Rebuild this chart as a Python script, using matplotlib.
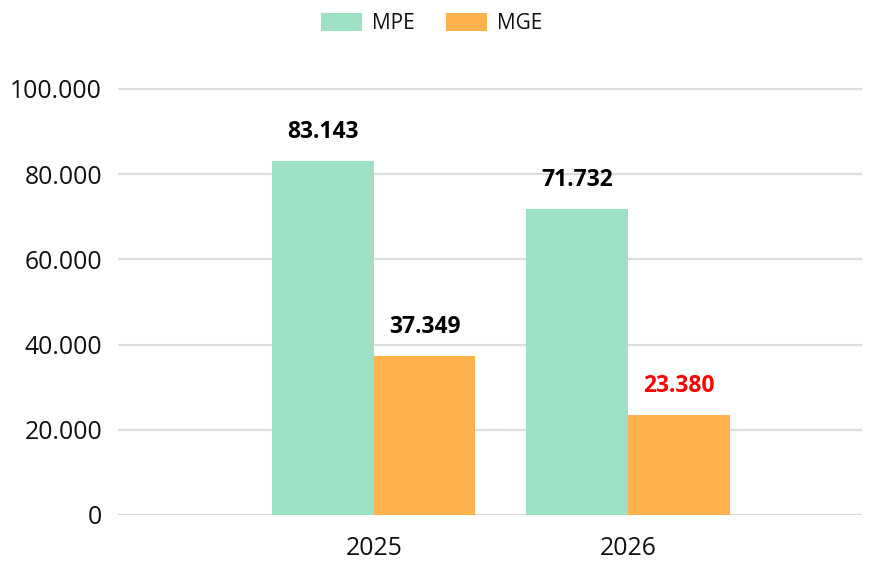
import matplotlib
matplotlib.use("Agg")
import matplotlib.pyplot as plt
from matplotlib.patches import Patch
from matplotlib.ticker import FuncFormatter
import numpy as np

categories = ["2025", "2026"]
series_names = ["MPE", "MGE"]
mpe = [83143, 71732]
mge = [37349, 23380]
colors = ["#9ee0c4", "#ffb14e"]
label_colors_mpe = ["#000000", "#000000"]
label_colors_mge = ["#000000", "#ff0000"]
yticks = [0, 20000, 40000, 60000, 80000, 100000]

plt.rcParams['font.family'] = ['Open Sans', 'DejaVu Sans']

W, H = 872, 564
fig = plt.figure(figsize=(W / 100, H / 100), dpi=100)
# axes: left 118px, right 862px, y=0 at 515px, y=100000 at 89px
ytop = 102000
px_per = (515 - 89) / 100000
top_px = 515 - ytop * px_per
ax = fig.add_axes([118 / W, 1 - 515 / H, (862 - 118) / W, (515 - top_px) / H])

x = np.arange(len(categories))
bw = 0.4
b1 = ax.bar(x - bw / 2, mpe, bw, color=colors[0], zorder=3)
b2 = ax.bar(x + bw / 2, mge, bw, color=colors[1], zorder=3)

fmt = lambda v: f"{int(round(v)):,}".replace(",", ".")
for rects, vals, cols in ((b1, mpe, label_colors_mpe), (b2, mge, label_colors_mge)):
    for r, v, c in zip(rects, vals, cols):
        ax.annotate(fmt(v), (r.get_x() + r.get_width() / 2, v), xytext=(0, 21),
                    textcoords="offset points", ha="center", va="center",
                    fontsize=16.5, fontweight="bold", color=c, zorder=4)

ax.set_xlim((118 - 373.7) / 254.3, (862 - 373.7) / 254.3)
ax.set_ylim(0, ytop)
ax.set_yticks(yticks)
ax.yaxis.set_major_formatter(FuncFormatter(lambda v, p: fmt(v)))
ax.set_xticks(x)
ax.set_xticklabels(categories)
ax.tick_params(axis="y", length=0, pad=11.5, labelsize=17.8, labelcolor="#111111")
ax.tick_params(axis="x", length=0, pad=15, labelsize=17.8, labelcolor="#111111")
ax.grid(axis="y", color="#dcdcdc", linewidth=1.6, zorder=0)
for s in ax.spines.values():
    s.set_visible(False)

handles = [Patch(facecolor=colors[0], edgecolor="none"), Patch(facecolor=colors[1], edgecolor="none")]
fig.legend(handles, series_names, loc="center", bbox_to_anchor=(432 / W, 1 - 23.5 / H),
           ncol=2, frameon=False, fontsize=15, handlelength=1.95, handleheight=1.0,
           handletextpad=0.5, columnspacing=1.5, labelcolor="#111111")

fig.savefig("out.png", dpi=100)
